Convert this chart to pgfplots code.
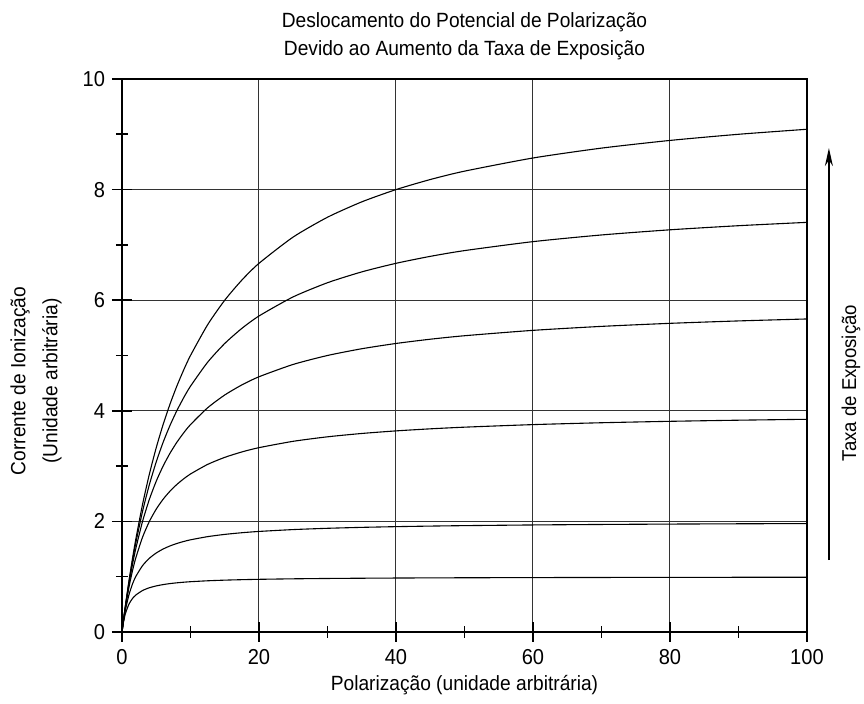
\documentclass[border=0pt]{standalone}
\usepackage{fontspec}
\setmainfont{Liberation Sans}[FakeStretch=0.93]
\usepackage{pgfplots}
\pgfplotsset{compat=1.18}
\usepackage{pgfplotstable}
\usetikzlibrary{arrows.meta}

% Ionization current vs. polarization potential, one column per exposure rate
\pgfplotstableread{
x     r10     r8      r6      r4      r2      r1
0     0       0       0       0       0       0
0.1   0.0990  0.0988  0.0984  0.0976  0.0952  0.0909
0.25  0.2439  0.2424  0.2400  0.2353  0.2222  0.2000
0.5   0.4762  0.4706  0.4615  0.4444  0.4000  0.3333
1     0.9091  0.8889  0.8571  0.8000  0.6667  0.5000
1.5   1.3043  1.2632  1.2000  1.0909  0.8571  0.6000
2     1.6667  1.6000  1.5000  1.3333  1.0000  0.6667
3     2.3077  2.1818  2.0000  1.7143  1.2000  0.7500
4     2.8571  2.6667  2.4000  2.0000  1.3333  0.8000
5     3.3333  3.0769  2.7273  2.2222  1.4286  0.8333
6     3.7500  3.4286  3.0000  2.4000  1.5000  0.8571
7     4.1176  3.7333  3.2308  2.5455  1.5556  0.8750
8     4.4444  4.0000  3.4286  2.6667  1.6000  0.8889
9     4.7368  4.2353  3.6000  2.7692  1.6364  0.9000
10    5.0000  4.4444  3.7500  2.8571  1.6667  0.9091
12.5  5.5556  4.8780  4.0541  3.0303  1.7241  0.9259
15    6.0000  5.2174  4.2857  3.1579  1.7647  0.9375
17.5  6.3636  5.4902  4.4681  3.2558  1.7949  0.9459
20    6.6667  5.7143  4.6154  3.3333  1.8182  0.9524
25    7.1429  6.0606  4.8387  3.4483  1.8519  0.9615
30    7.5000  6.3158  5.0000  3.5294  1.8750  0.9677
35    7.7778  6.5116  5.1220  3.5897  1.8919  0.9722
40    8.0000  6.6667  5.2174  3.6364  1.9048  0.9756
45    8.1818  6.7925  5.2941  3.6735  1.9149  0.9783
50    8.3333  6.8966  5.3571  3.7037  1.9231  0.9804
60    8.5714  7.0588  5.4545  3.7500  1.9355  0.9836
70    8.7500  7.1795  5.5263  3.7838  1.9444  0.9859
80    8.8889  7.2727  5.5814  3.8095  1.9512  0.9877
90    9.0000  7.3469  5.6250  3.8298  1.9565  0.9890
100   9.0909  7.4074  5.6604  3.8462  1.9608  0.9901
}\curves

\begin{document}
\begin{tikzpicture}
\useasboundingbox (-61pt,-36pt) rectangle (371pt,316pt);
\begin{axis}[
  scale only axis,
  width=342.5pt, height=276.5pt,
  xmin=0, xmax=100, ymin=0, ymax=10,
  xtick={0,20,...,100}, ytick={0,2,...,10},
  minor xtick={10,30,...,90}, minor ytick={1,3,...,9},
  xtick pos=bottom, ytick pos=left,
  grid=major,
  major grid style={black!80, line width=0.5pt},
  axis line style={line width=1.3pt},
  tick align=center,
  major tick length=10pt, minor tick length=6pt,
  every tick/.style={black, line width=0.8pt},
  tick label style={font=\fontsize{10.8}{12}\selectfont},
  /pgf/number format/assume math mode=true,
  clip=false,
  cycle list={black\\},
  every axis plot/.append style={black, solid, line width=0.55pt, smooth, tension=0.4, no marks},
]
\addplot table[x=x, y=r10] {\curves};
\addplot table[x=x, y=r8]  {\curves};
\addplot table[x=x, y=r6]  {\curves};
\addplot table[x=x, y=r4]  {\curves};
\addplot table[x=x, y=r2]  {\curves};
\addplot table[x=x, y=r1]  {\curves};

% direction of increasing exposure rate
\draw[line width=0.6pt, -{Stealth[length=9pt, width=4pt]}]
  (axis cs:103.2,1.3) -- (axis cs:103.2,8.75);
\end{axis}

\node[align=center, font=\fontsize{10.3}{14}\selectfont] at (171.25pt,298pt)
  {Deslocamento do Potencial de Polarização\\Devido ao Aumento da Taxa de Exposição};
\node[font=\fontsize{10.3}{12}\selectfont] at (171.25pt,-26.5pt)
  {Polarização (unidade arbitrária)};
\node[align=center, rotate=90, font=\fontsize{10.3}{16}\selectfont] at (-43pt,125.5pt)
  {Corrente de Ionização\\(Unidade arbitrária)};
\node[rotate=90, font=\fontsize{10}{12}\selectfont] at (364.5pt,124.5pt)
  {Taxa de Exposição};
\end{tikzpicture}
\end{document}
